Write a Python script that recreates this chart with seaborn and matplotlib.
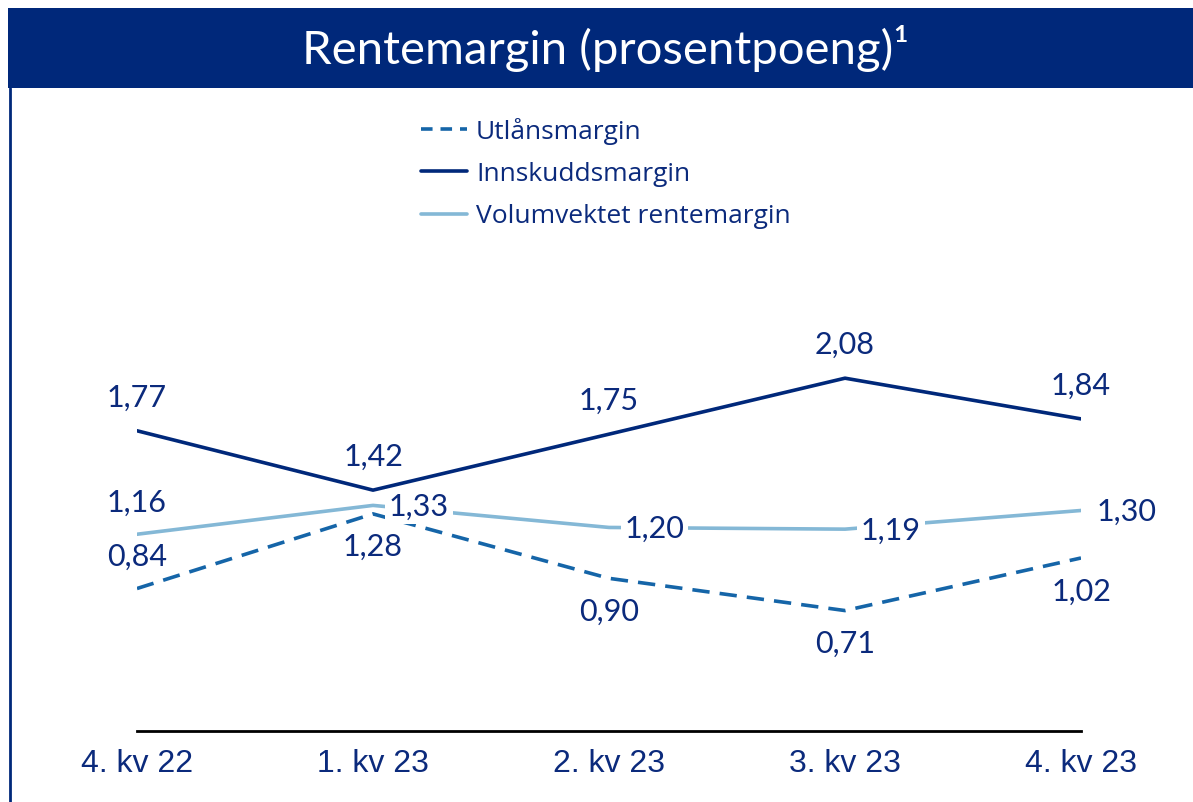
"""Rentemargin line chart."""

import matplotlib
matplotlib.use("Agg")
import matplotlib.pyplot as plt
import pandas as pd
import seaborn as sns
from matplotlib.patches import Rectangle
from matplotlib.lines import Line2D

quarters = ["4. kv 22", "1. kv 23", "2. kv 23", "3. kv 23", "4. kv 23"]
utlan = [0.84, 1.28, 0.90, 0.71, 1.02]
innskudd = [1.77, 1.42, 1.75, 2.08, 1.84]
volum = [1.16, 1.33, 1.20, 1.19, 1.30]
series_names = ["Utlånsmargin", "Innskuddsmargin", "Volumvektet rentemargin"]

NAVY = "#00287A"
TEXT = "#0B2A7C"
MID = "#1565A8"
LIGHT = "#84B8D6"
LW = 2.6
DASH = (4.8, 2.8)

df = pd.concat([
    pd.DataFrame({"kvartal": quarters, "verdi": vals, "serie": name})
    for name, vals in zip(series_names, [utlan, innskudd, volum])
])

sns.set_theme(style="white")
plt.rcParams["font.family"] = ["Lato", "DejaVu Sans"]

fig = plt.figure(figsize=(11.93, 8.02), dpi=100)
W, H = 1193, 802
ax = fig.add_axes([137 / W, 1 - 731 / H, (1081 - 137) / W, (731 - 100) / H])

palette = {"Utlånsmargin": MID, "Innskuddsmargin": NAVY, "Volumvektet rentemargin": LIGHT}
dashes = {"Utlånsmargin": DASH, "Innskuddsmargin": "", "Volumvektet rentemargin": ""}
sns.lineplot(data=df, x="kvartal", y="verdi", hue="serie", style="serie",
             palette=palette, dashes=dashes, linewidth=LW, sort=False,
             legend=False, ax=ax)

ax.set_xlim(0, len(quarters) - 1)
ax.set_ylim(0, 3.72)
ax.set_xlabel("")
ax.set_ylabel("")
ax.set_yticks([])
for side in ["top", "left", "right"]:
    ax.spines[side].set_visible(False)
ax.spines["bottom"].set_color("black")
ax.spines["bottom"].set_linewidth(2)
ax.tick_params(axis="x", length=0, pad=13, labelsize=23, labelcolor=TEXT)
for lab in ax.get_xticklabels():
    lab.set_family(["Liberation Sans", "DejaVu Sans"])

def fmt(v):
    return f"{v:.2f}".replace(".", ",")

lab_kw = dict(fontsize=22, color=TEXT, ha="center", va="center")
# Innskuddsmargin labels above
for i, v in enumerate(innskudd):
    ax.annotate(fmt(v), (i, v), xytext=(0, 24), textcoords="offset points", **lab_kw)
# Utlånsmargin labels
for i, v in enumerate(utlan):
    dy = 23 if i == 0 else -24
    ax.annotate(fmt(v), (i, v), xytext=(0, dy), textcoords="offset points", **lab_kw)
# Volumvektet labels
box = dict(boxstyle="square,pad=0.12", fc="white", ec="none")
for i, v in enumerate(volum):
    if i == 0:
        ax.annotate(fmt(v), (i, v), xytext=(0, 23), textcoords="offset points", **lab_kw)
    else:
        ax.annotate(fmt(v), (i, v), xytext=(33, -1), textcoords="offset points",
                    bbox=box, **lab_kw)

handles = [
    Line2D([], [], color=MID, lw=LW, dashes=(3.2, 2.2)),
    Line2D([], [], color=NAVY, lw=LW),
    Line2D([], [], color=LIGHT, lw=LW),
]
leg = fig.legend(handles, series_names, loc="upper left",
                 bbox_to_anchor=(410 / W, 1 - 107 / H), frameon=False,
                 prop={"family": ["Open Sans", "DejaVu Sans"], "size": 19},
                 handlelength=1.75, handletextpad=0.35,
                 labelspacing=0.65, borderaxespad=0)
for t in leg.get_texts():
    t.set_color(TEXT)

# title banner and left border
fig.patches.append(Rectangle((8 / W, 1 - 88 / H), 1 - 8 / W, 80 / H,
                             transform=fig.transFigure, fc=NAVY, ec="none"))
fig.lines.append(Line2D([10 / W, 10 / W], [0, 1 - 88 / H], transform=fig.transFigure,
                        color=NAVY, lw=2))
fig.text(605 / W, 1 - 48 / H, "Rentemargin (prosentpoeng)\u00b9", color="white",
         fontsize=34, ha="center", va="center", fontweight="normal")

fig.savefig("out.png", dpi=100, facecolor="white")
